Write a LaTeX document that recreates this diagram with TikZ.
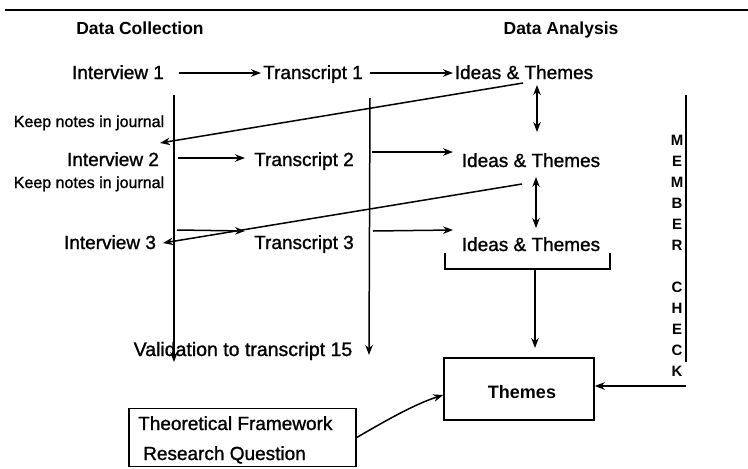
\documentclass[tikz,border=0pt]{standalone}
\usepackage{fontspec}
\setmainfont{Liberation Sans}
\newfontfamily\heavyfont{Liberation Sans}[FakeBold=1.2]
\usetikzlibrary{arrows.meta}
\begin{document}
\begin{tikzpicture}[x=1pt,y=-1pt,
  txt/.style={inner sep=0pt,anchor=base,font=\heavyfont\fontsize{19}{22}\selectfont},
  small/.style={inner sep=0pt,anchor=base,font=\heavyfont\fontsize{16}{18}\selectfont},
  head/.style={inner sep=0pt,anchor=base,font=\bfseries\fontsize{17.5}{20}\selectfont},
  ln/.style={line width=1.5pt},
  arr/.style={ln,-{Stealth[length=10pt,width=7.5pt]}},
  darr/.style={ln,{Stealth[length=10pt,width=7.5pt]}-{Stealth[length=10pt,width=7.5pt]}},
  boxed/.style={draw,line width=1.5pt,inner sep=0pt}]
\useasboundingbox (0,0) rectangle (748,469);
% top rule
\coordinate (rl) at (5,10);
\coordinate (rr) at (748,10);
\draw[line width=2pt] (rl) -- (rr);
% headings
\node[head] (dc) at (140,34) {Data Collection};
\node[head] (da) at (561,34) {Data Analysis};
% row 1
\node[txt] (i1) at (118,79) {Interview 1};
\node[txt] (t1) at (313,79) {Transcript 1};
\node[txt] (it1) at (524,79) {Ideas \& Themes};
% row 2
\node[small] (k1) at (89,127) {Keep notes in journal};
\node[txt] (i2) at (113,166) {Interview 2};
\node[txt] (t2) at (304,166) {Transcript 2};
\node[txt] (it2) at (531,167) {Ideas \& Themes};
\node[small] (k2) at (89,188) {Keep notes in journal};
% row 3
\node[txt] (i3) at (110,249) {Interview 3};
\node[txt] (t3) at (304,249) {Transcript 3};
\node[txt] (it3) at (531,251) {Ideas \& Themes};
\node[txt,font=\heavyfont\fontsize{19.5}{22}\selectfont] (val) at (243,356) {Validation to transcript 15};
% boxes
\node[boxed,minimum width=150pt,minimum height=62pt] (th) at (519,389) {};
\node[inner sep=0pt,anchor=base,font=\bfseries\fontsize{18}{22}\selectfont] (tht) at (522,398) {Themes};
\node[boxed,minimum width=227pt,minimum height=58pt] (tf) at (242.5,437.5) {};
\node[txt,anchor=base west] (tfa) at (138,430) {Theoretical Framework};
\node[txt,anchor=base west] (tfb) at (143,460) {Research Question};
% member check
\node[inner sep=0pt,align=center,anchor=north,font=\bfseries\fontsize{15}{21}\selectfont] (mc) at (677,135)
  {M\\E\\M\\B\\E\\R\\[21pt]C\\H\\E\\C\\K};
% coordinates
\coordinate (v1t) at (174,95);  \coordinate (v1b) at (174,362);
\coordinate (v2t) at (370,98);  \coordinate (v2b) at (369,355);
\coordinate (mt) at (686,95);   \coordinate (mb) at (686,362);
\coordinate (ms) at (686,386);
\coordinate (a1s) at (179,73);  \coordinate (a1e) at (261,73);
\coordinate (a2s) at (370,73);  \coordinate (a2e) at (453,73);
\coordinate (d1s) at (523,83);  \coordinate (d1e) at (160,143);
\coordinate (b1s) at (178,158); \coordinate (b1e) at (245,158);
\coordinate (b2s) at (372,152); \coordinate (b2e) at (453,152);
\coordinate (c1s) at (177,230); \coordinate (c1e) at (245,231);
\coordinate (c2s) at (373,231); \coordinate (c2e) at (453,230);
\coordinate (d2s) at (522,184); \coordinate (d2e) at (163,243);
\coordinate (u1t) at (537,85);  \coordinate (u1b) at (537,132);
\coordinate (u2t) at (536,177); \coordinate (u2b) at (536,228);
\coordinate (bl) at (445,253);  \coordinate (br) at (610,253);
\coordinate (bm) at (535,269);  \coordinate (bt) at (535,348);
% vertical lines
\draw[arr] (v1t) -- (v1b);
\draw[arr] (v2t) -- (v2b);
\draw[ln] (mt) -- (mb);
\draw[arr] (ms) -- (ms -| th.east);
% row arrows
\draw[arr] (a1s) -- (a1e);
\draw[arr] (a2s) -- (a2e);
\draw[arr] (b1s) -- (b1e);
\draw[arr] (b2s) -- (b2e);
\draw[arr] (c1s) -- (c1e);
\draw[arr] (c2s) -- (c2e);
% feedback diagonals
\draw[arr] (d1s) -- (d1e);
\draw[arr] (d2s) -- (d2e);
% double arrows
\draw[darr] (u1t) -- (u1b);
\draw[darr] (u2t) -- (u2b);
% bracket and down arrow
\draw[ln] (bl) |- (bm) -| (br);
\draw[arr] (bm) -- (bt);
% framework to themes
\draw[arr] (tf.east) .. controls (385,421) and (415,404) .. ([yshift=-6pt]th.west);
\end{tikzpicture}
\end{document}
